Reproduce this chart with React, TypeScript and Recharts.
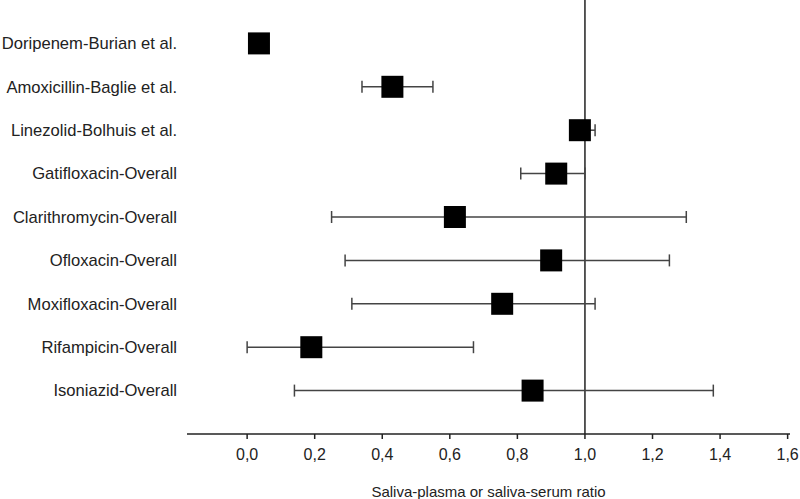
import { ScatterChart, Scatter, XAxis, YAxis, ErrorBar, ReferenceLine } from "recharts"

// rows from top to bottom
const studies = [
  "Doripenem-Burian et al.",
  "Amoxicillin-Baglie et al.",
  "Linezolid-Bolhuis et al.",
  "Gatifloxacin-Overall",
  "Clarithromycin-Overall",
  "Ofloxacin-Overall",
  "Moxifloxacin-Overall",
  "Rifampicin-Overall",
  "Isoniazid-Overall",
]
const ratios = [0.035, 0.43, 0.985, 0.915, 0.615, 0.9, 0.755, 0.19, 0.845]
const lowerCI = [0.035, 0.34, 0.96, 0.81, 0.25, 0.29, 0.31, 0.0, 0.14]
const upperCI = [0.035, 0.55, 1.03, 1.0, 1.3, 1.25, 1.03, 0.67, 1.38]
const xTicks = [0, 0.2, 0.4, 0.6, 0.8, 1.0, 1.2, 1.4, 1.6]

const rows = studies.map((name, i) => ({
  name,
  x: ratios[i],
  y: i + 1,
  err: [ratios[i] - lowerCI[i], upperCI[i] - ratios[i]],
}))

const font = "'Liberation Sans', Arial, sans-serif"

const Square = (props: any) => (
  <rect x={props.cx - 11} y={props.cy - 11} width={22} height={22} fill="#000" />
)

export default function App() {
  return (
    <div style={{ position: "absolute", left: 0, top: 0, background: "#fff" }}>
      <ScatterChart
        width={800}
        height={499}
        margin={{ top: 0, right: 10, bottom: 0, left: 0 }}
      >
        <XAxis
          type="number"
          dataKey="x"
          domain={[-0.178, 1.607]}
          ticks={xTicks}
          allowDataOverflow
          tickFormatter={(v: number) => v.toFixed(1).replace(".", ",")}
          stroke="#222"
          strokeWidth={1.5}
          tickSize={5}
          tickMargin={10}
          tick={{ fontSize: 16, fill: "#222", fontFamily: font }}
          height={65}
          label={{
            value: "Saliva-plasma or saliva-serum ratio",
            position: "insideBottom",
            offset: 2,
            fontSize: 15,
            fill: "#222",
            fontFamily: font,
          }}
        />
        <YAxis
          type="number"
          dataKey="y"
          domain={[0, 10]}
          reversed
          ticks={[1, 2, 3, 4, 5, 6, 7, 8, 9]}
          tickFormatter={(v: number) => studies[v - 1] ?? ""}
          axisLine={false}
          tickLine={false}
          tickMargin={4}
          width={187}
          tick={{ fontSize: 16.6, fill: "#222", fontFamily: font }}
        />
        <ReferenceLine x={1} stroke="#222" strokeWidth={1.5} />
        <Scatter data={rows} shape={<Square />} isAnimationActive={false}>
          <ErrorBar
            dataKey="err"
            direction="x"
            width={6}
            stroke="#444"
            strokeWidth={1.5}
            isAnimationActive={false}
          />
        </Scatter>
      </ScatterChart>
    </div>
  )
}
